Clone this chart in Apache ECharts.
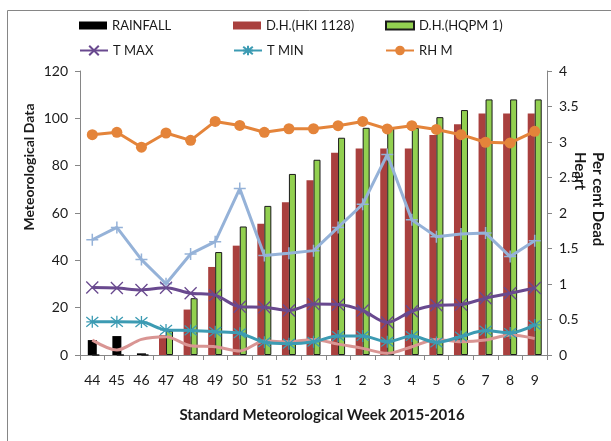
<!DOCTYPE html>
<html><head><meta charset="utf-8">
<script src="https://cdn.jsdelivr.net/npm/echarts@6/dist/echarts.min.js"></script>
<style>html,body{margin:0;padding:0;background:#fff}#c{width:611px;height:441px}</style>
</head><body><div id="c"></div>
<script>
// ---- data ----
const weeks = ['44','45','46','47','48','49','50','51','52','53','1','2','3','4','5','6','7','8','9'];
const rainfall = [6.3, 8.0, 0.7, 0, 0, 0, 0, 0, 0, 0, 0, 0, 0, 0, 0, 0, 0, 0, 0];
const dhHKI1128 = [0, 0, 0, 0.28, 0.64, 1.24, 1.54, 1.85, 2.15, 2.46, 2.85, 2.91, 2.91, 2.91, 3.10, 3.25, 3.40, 3.40, 3.40];
const dhHQPM1 = [0, 0, 0, 0.34, 0.80, 1.45, 1.81, 2.10, 2.55, 2.75, 3.06, 3.20, 3.20, 3.20, 3.35, 3.45, 3.60, 3.60, 3.60];
const tMax = [28.5, 28.3, 27.5, 28.4, 26.1, 25.3, 20.4, 20.2, 18.8, 21.5, 21.3, 18.8, 13.7, 18.5, 21.0, 21.3, 24.0, 26.1, 28.3];
const tMin = [14.0, 14.0, 13.9, 10.6, 10.4, 9.8, 9.2, 5.4, 4.8, 5.6, 8.0, 8.0, 5.6, 8.0, 5.3, 7.8, 10.3, 9.3, 12.7];
const rhM = [93.1, 94.1, 87.8, 93.8, 90.7, 98.7, 97.0, 94.1, 95.6, 95.6, 96.9, 98.7, 95.5, 96.9, 95.3, 93.1, 89.9, 89.6, 94.5];
const rhE = [48.7, 53.9, 40.3, 30.1, 42.7, 47.9, 70.3, 42.0, 43.0, 44.1, 53.9, 63.7, 84.7, 57.1, 50.0, 51.1, 51.5, 41.6, 48.3];
const windSpeed = [6.3, 2.1, 6.6, 7.7, 3.9, 3.5, 1.7, 5.9, 5.6, 6.6, 4.6, 2.8, 0.7, 3.5, 6.6, 5.6, 6.3, 8.4, 7.0];
const leftTicks = {min: 0, max: 120, interval: 20};
const rightTicks = {min: 0, max: 4, interval: 0.5};

// ---- styling ----
const FONT = "'Liberation Sans Narrow', Lato, sans-serif";
const AXIS = '#868686';
const xMark = 'path://M0,0L10,10M10,0L0,10';
const starMark = 'path://M0,1L10,9M10,1L0,9M5,0L5,10M0,5L10,5';
const plusMark = 'path://M5,0L5,10M0,5L10,5';

const chart = echarts.init(document.getElementById('c'));

function legendAt(name, left, top, h, icon) {
  const l = {
    data: [name], left: left, top: top, orient: 'horizontal',
    itemWidth: 28, itemHeight: h, padding: 0,
    textStyle: {fontFamily: FONT, fontSize: 13, color: '#1a1a1a'},
    selectedMode: false
  };
  if (icon) l.icon = icon;
  return l;
}

const option = {
  animation: false,
  backgroundColor: '#fff',
  textStyle: {fontFamily: FONT},
  grid: {left: 80, right: 64, top: 71, bottom: 86, containLabel: false},
  legend: [
    legendAt('RAINFALL', 79, 19, 8, 'rect'),
    legendAt('D.H.(HKI 1128)', 233, 19, 8, 'rect'),
    legendAt('D.H.(HQPM 1)', 385, 19, 8, 'rect'),
    legendAt('T MAX', 79, 44, 12),
    legendAt('T MIN', 233, 44, 12),
    legendAt('RH M', 385, 44, 12)
  ],
  xAxis: [
    {
      type: 'category', data: weeks, boundaryGap: true,
      axisLine: {lineStyle: {color: AXIS, width: 1}},
      axisTick: {show: true, length: 5, lineStyle: {color: AXIS}, alignWithLabel: false},
      axisLabel: {fontFamily: FONT, fontSize: 14, color: '#1a1a1a', margin: 18, interval: 0},
      splitLine: {show: false}
    },
    {
      type: 'category', data: weeks, boundaryGap: true, show: false
    }
  ],
  yAxis: [
    {
      type: 'value', min: leftTicks.min, max: leftTicks.max, interval: leftTicks.interval,
      axisLine: {show: true, lineStyle: {color: AXIS}},
      axisTick: {show: true, length: 5, lineStyle: {color: AXIS}},
      axisLabel: {fontFamily: FONT, fontSize: 14, color: '#1a1a1a', margin: 12},
      splitLine: {show: false}
    },
    {
      type: 'value', position: 'right', min: rightTicks.min, max: rightTicks.max, interval: rightTicks.interval,
      axisLine: {show: true, lineStyle: {color: AXIS}},
      axisTick: {show: true, length: 5, lineStyle: {color: AXIS}},
      axisLabel: {fontFamily: FONT, fontSize: 14, color: '#1a1a1a', margin: 12},
      splitLine: {show: false}
    }
  ],
  graphic: [
    {type: 'rect', shape: {x: 7.5, y: 10.5, width: 800, height: 600}, style: {fill: 'none', stroke: AXIS, lineWidth: 1}, silent: true, z: -1},
    {type: 'text', x: 29, y: 167, rotation: Math.PI / 2, style: {text: 'Meteorological Data', font: "bold 14px " + FONT, fill: '#1a1a1a', textAlign: 'center', textVerticalAlign: 'middle'}},
    {type: 'text', x: 598, y: 152, rotation: -Math.PI / 2, style: {text: 'Per cent Dead', font: "bold 15px " + FONT, fill: '#1a1a1a', textAlign: 'left', textVerticalAlign: 'middle'}},
    {type: 'text', x: 580, y: 152, rotation: -Math.PI / 2, style: {text: 'Heart', font: "bold 15px " + FONT, fill: '#1a1a1a', textAlign: 'left', textVerticalAlign: 'middle'}},
    {type: 'text', x: 322, y: 415, style: {text: 'Standard Meteorological Week 2015-2016', font: "bold 15px " + FONT, fill: '#1a1a1a', textAlign: 'center', textVerticalAlign: 'middle'}}
  ],
  series: [
    {name: 'RAINFALL', type: 'bar', xAxisIndex: 0, yAxisIndex: 0, data: rainfall, barWidth: 9,
      itemStyle: {color: '#000'}},
    {name: 'D.H.(HKI 1128)', type: 'bar', xAxisIndex: 1, yAxisIndex: 1, data: dhHKI1128, barWidth: 7, barGap: '0%',
      itemStyle: {color: '#A9403E'}},
    {name: 'D.H.(HQPM 1)', type: 'bar', xAxisIndex: 1, yAxisIndex: 1, data: dhHQPM1, barWidth: 7, barGap: '0%',
      itemStyle: {color: '#92D050', borderColor: '#1a1a1a', borderWidth: 1}},
    {name: 'RH E', type: 'line', xAxisIndex: 0, yAxisIndex: 0, data: rhE,
      symbol: plusMark, symbolSize: 12,
      lineStyle: {color: '#95B2D8', width: 3},
      itemStyle: {color: '#95B2D8', borderColor: '#95B2D8', borderWidth: 1.5}},
    {name: 'WIND', type: 'line', xAxisIndex: 0, yAxisIndex: 0, data: windSpeed,
      symbol: 'none', smooth: 0.3,
      lineStyle: {color: '#D99593', width: 3},
      itemStyle: {color: '#D99593'}},
    {name: 'T MAX', type: 'line', xAxisIndex: 0, yAxisIndex: 0, data: tMax,
      symbol: xMark, symbolSize: 12, smooth: 0.3,
      lineStyle: {color: '#69498F', width: 3},
      itemStyle: {color: '#69498F', borderColor: '#69498F', borderWidth: 1.3}},
    {name: 'T MIN', type: 'line', xAxisIndex: 0, yAxisIndex: 0, data: tMin,
      symbol: starMark, symbolSize: 12, smooth: 0.3,
      lineStyle: {color: '#3C9BB3', width: 3},
      itemStyle: {color: '#3C9BB3', borderColor: '#3C9BB3', borderWidth: 1.3}},
    {name: 'RH M', type: 'line', xAxisIndex: 0, yAxisIndex: 0, data: rhM,
      symbol: 'circle', symbolSize: 11,
      lineStyle: {color: '#E4843A', width: 3},
      itemStyle: {color: '#E4843A'}}
  ]
};
chart.setOption(option);
</script>
</body></html>
